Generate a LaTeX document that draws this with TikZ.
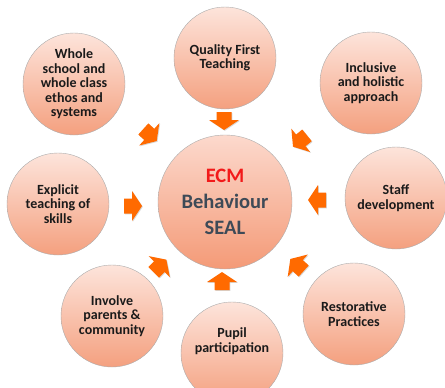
\documentclass[tikz,border=0pt]{standalone}
\usepackage{fontspec}
\setmainfont{Carlito}
\usetikzlibrary{shadows}
\definecolor{pinkT}{HTML}{FDE4DB}
\definecolor{pinkB}{HTML}{F4A07F}
\definecolor{cpinkT}{HTML}{FCD9CD}
\definecolor{cpinkB}{HTML}{F49A77}
\definecolor{arr}{HTML}{FF6A00}
\definecolor{txt}{HTML}{1A1A1A}
\definecolor{slate}{HTML}{3E4A57}
\definecolor{ecmred}{HTML}{F21A1A}
\tikzset{
  bub/.style={circle, minimum size=102pt, inner sep=0pt, draw=gray!65, line width=0.4pt,
    top color=pinkT, bottom color=pinkB, align=center, text=txt,
    font=\bfseries\fontsize{14}{14.5}\selectfont},
  lbl/.style={align=center, text=txt, inner sep=0pt,
    font=\bfseries\fontsize{14}{14.5}\selectfont},
  hub/.style={circle, minimum size=134pt, inner sep=0pt, draw=gray!65, line width=0.4pt,
    top color=cpinkT, bottom color=cpinkB, align=center, text=slate,
    font=\bfseries\fontsize{20.5}{26}\selectfont},
  blkarrow/.pic={
    \fill[arr, drop shadow={opacity=0.3, shadow xshift=0.8pt, shadow yshift=-0.8pt}]
      (-9,-7.5) -- (-1,-7.5) -- (-1,-15) -- (9,0) -- (-1,15) -- (-1,7.5) -- (-9,7.5) -- cycle;
  }
}
\begin{document}
\begin{tikzpicture}[x=1pt,y=-1pt]
\useasboundingbox (0,0) rectangle (445,388);
\fill[white] (0,0) rectangle (445,388);
% hub
\node[hub] (c) at (225,202) {\textcolor{ecmred}{ECM}\\Behaviour\\SEAL};
% outer circles
\node[bub] (q) at (225,58) {Quality First\\Teaching};
\node[bub] (w) at (74,84) {Whole\\school and\\whole class\\ethos and\\systems};
\node[bub] (i) at (371,83) {Inclusive\\and holistic\\approach};
\node[bub] (s) at (396,198) {Staff\\development};
\node[bub] (r) at (354,314) {Restorative\\Practices};
\node[bub] (p) at (232,353) {};
\node[lbl] (pt) at (232,341) {Pupil\\participation};
\node[bub] (v) at (112,316) {Involve\\parents \&\\community};
\node[bub] (e) at (58,204) {Explicit\\teaching of\\skills};
% arrows
\pic[rotate=-90] at (224,121) {blkarrow};
\pic[rotate=-42] at (150,135) {blkarrow};
\pic[rotate=-141] at (300,141) {blkarrow};
\pic[rotate=180] at (317,200) {blkarrow};
\pic[rotate=138] at (297,265) {blkarrow};
\pic[rotate=90] at (222,281) {blkarrow};
\pic[rotate=45] at (160,266) {blkarrow};
\pic[rotate=0] at (133,206) {blkarrow};
\end{tikzpicture}
\end{document}
